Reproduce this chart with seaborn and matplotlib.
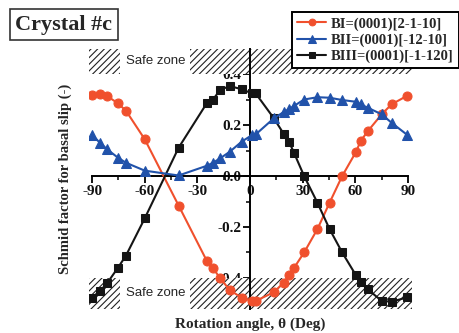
import numpy as np
import pandas as pd
import matplotlib
matplotlib.use('Agg')
import matplotlib.pyplot as plt
from matplotlib.patches import Rectangle
import seaborn as sns

# rotation angles (deg), shared by the three basal slip systems
angles = [-90, -85.5, -81.5, -75.3, -70.7, -60, -40.7, -24.7, -21.1, -17.1,
          -11.6, -4.7, 1.2, 3.2, 13.5, 19.2, 22.2, 25.1, 30.8, 38.4,
          45.3, 52.5, 60.4, 63.0, 67.0, 75.0, 80.6, 89.6]
bi_values = [0.318, 0.320, 0.314, 0.285, 0.256, 0.144, -0.116, -0.332, -0.362, -0.400,
             -0.447, -0.478, -0.490, -0.490, -0.456, -0.418, -0.388, -0.360, -0.300, -0.208,
             -0.105, 0.000, 0.095, 0.137, 0.175, 0.242, 0.281, 0.315]
bii_values = [0.161, 0.130, 0.105, 0.072, 0.052, 0.021, 0.002, 0.040, 0.052, 0.069,
              0.095, 0.135, 0.161, 0.163, 0.226, 0.251, 0.262, 0.275, 0.300, 0.309,
              0.307, 0.298, 0.291, 0.281, 0.268, 0.242, 0.209, 0.161]
biii_values = [-0.477, -0.451, -0.421, -0.360, -0.312, -0.166, 0.111, 0.285, 0.300, 0.337,
               0.353, 0.340, 0.324, 0.324, 0.227, 0.165, 0.135, 0.090, 0.000, -0.105,
               -0.208, -0.300, -0.390, -0.417, -0.444, -0.490, -0.493, -0.476]
series_labels = ['BI=(0001)[2-1-10]', 'BII=(0001)[-12-10]', 'BIII=(0001)[-1-120]']
x_ticks = [-90, -60, -30, 0, 30, 60, 90]
x_minor = [-75, -45, -15, 15, 45, 75]
x_tick_labels = ['-90', '-60', '-30', '0', '30', '60', '90']
y_ticks = [-0.4, -0.2, 0.0, 0.2, 0.4]
y_minor = [-0.5, -0.3, -0.1, 0.1, 0.3]
y_tick_labels = ['-0.4', '-0.2', '0.0', '0.2', '0.4']

sns.set_theme(style='ticks')
plt.rcParams['font.family'] = ['Liberation Serif', 'DejaVu Serif']
plt.rcParams['font.weight'] = 'bold'
plt.rcParams['hatch.linewidth'] = 0.8

fig = plt.figure(figsize=(4.6, 3.33), dpi=100)
ax = fig.add_axes([0.1926, 0.0733, 0.702, 0.781])

# safe zones
for lo, hi in [(0.4, 0.5), (-0.52, -0.4)]:
    ax.axhspan(lo, hi, facecolor='white', edgecolor='#222', hatch='/////', lw=0, zorder=1)
    ax.add_patch(Rectangle((-74, lo), 40, hi - lo, facecolor='white', edgecolor='none', zorder=1.1))
    ax.text(-54, (lo + hi) / 2, 'Safe zone', family='Liberation Sans', weight='normal',
            fontsize=9.5, ha='center', va='center', zorder=1.2)

df = pd.DataFrame({'angle': angles, 'BI': bi_values, 'BII': bii_values, 'BIII': biii_values})
styles = [('BI', '#F0502D', 'o', 6.5, 3),
          ('BII', '#2152AA', '^', 7, 5),
          ('BIII', '#151515', 's', 5.5, 3)]
for (col, color, marker, ms, z), lab in zip(styles, series_labels):
    sns.lineplot(data=df, x='angle', y=col, color=color, marker=marker, markersize=ms,
                 markeredgecolor=color, linewidth=1.5, label=lab, ax=ax, zorder=z)

ax.set_xlim(-92, 92)
ax.set_ylim(-0.52, 0.5)
for s in ['top', 'right']:
    ax.spines[s].set_visible(False)
ax.spines['left'].set_position(('data', 0))
ax.spines['bottom'].set_position(('data', 0))
ax.spines['bottom'].set_bounds(-90, 90)
for s in ['left', 'bottom']:
    ax.spines[s].set_color('black')
    ax.spines[s].set_linewidth(1.4)
    ax.spines[s].set_zorder(2.5)

ax.set_xticks(x_ticks)
ax.set_xticks(x_minor, minor=True)
ax.set_xticklabels(x_tick_labels)
ax.set_yticks(y_ticks)
ax.set_yticks(y_minor, minor=True)
ax.set_yticklabels(y_tick_labels)
ax.tick_params(which='major', direction='out', length=5, width=1.3, color='black',
               labelsize=11, pad=1.5, labelcolor='#111')
ax.tick_params(which='minor', direction='out', length=3, width=1.1, color='black')

ax.set_xlabel('Rotation angle, θ (Deg)', fontsize=11, weight='bold')
ax.xaxis.set_label_coords(0.5, -0.036)
ax.set_ylabel('Schmid factor for basal slip (-)', fontsize=10.5, weight='bold')
ax.yaxis.set_label_coords(-0.05, 0.498)

handles, labels = ax.get_legend_handles_labels()
ax.get_legend().remove()
leg = fig.legend(handles, labels, loc='upper right', bbox_to_anchor=(0.997, 0.964),
                 borderaxespad=0, frameon=True, fancybox=False, edgecolor='black',
                 framealpha=1, prop=dict(family='Liberation Serif', weight='bold', size=10.5),
                 handlelength=2.0, handletextpad=0.3, labelspacing=0.2, borderpad=0.35,
                 markerscale=0.75)
leg.get_frame().set_linewidth(1.4)

fig.text(0.139, 0.926, 'Crystal #c', ha='center', va='center', fontsize=16, weight='bold',
         bbox=dict(boxstyle='square,pad=0.25', facecolor='white', edgecolor='#333', lw=1.2))

fig.savefig('out.png', dpi=100)
